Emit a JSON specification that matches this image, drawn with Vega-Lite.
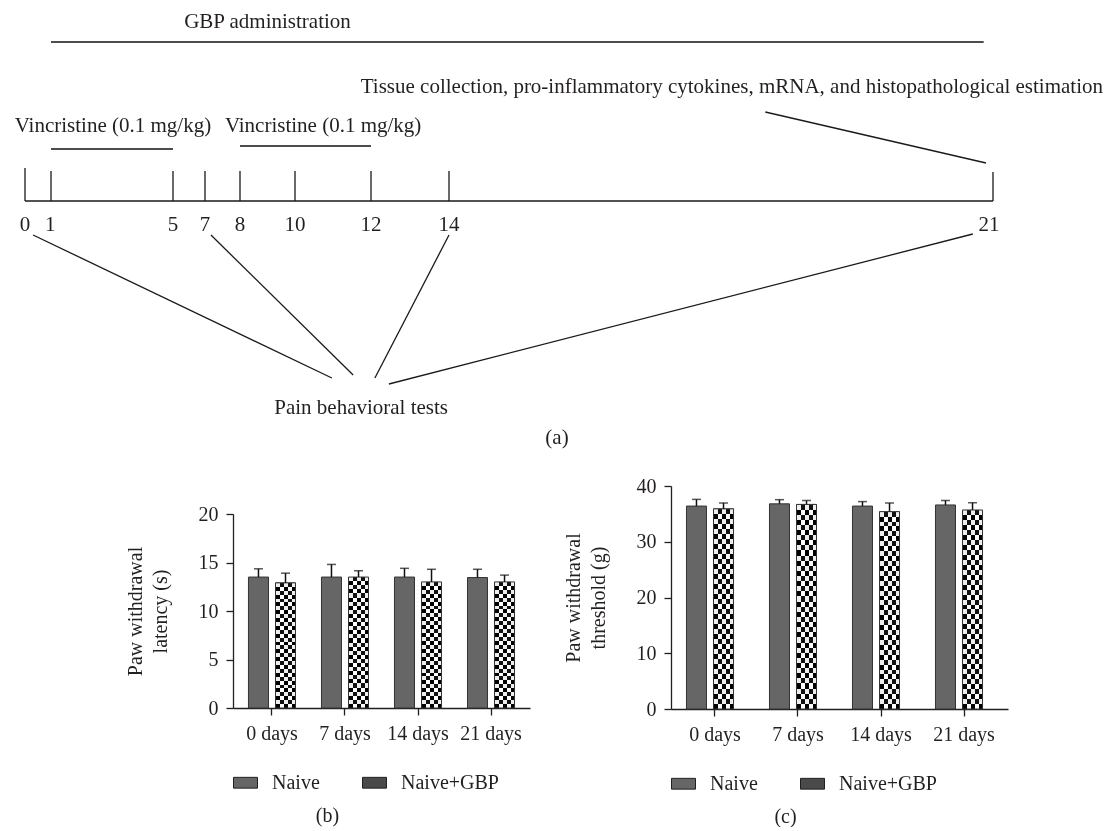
{
  "$schema": "https://vega.github.io/schema/vega-lite/v6.json",
  "background": "white",
  "padding": 0,
  "spacing": 21,
  "resolve": {"scale": {"fill": "independent"}, "legend": {"fill": "independent"}},
  "config": {
    "view": {"stroke": null},
    "font": "Liberation Serif",
    "axis": {"domainColor": "#231f20", "domainWidth": 1.3, "tickColor": "#231f20", "tickWidth": 1.3, "tickSize": 7, "labelFont": "Liberation Serif", "labelFontSize": 20, "labelColor": "#231f20", "titleFont": "Liberation Serif", "titleFontSize": 20, "titleFontWeight": "normal", "titleColor": "#231f20", "grid": false},
    "axisX": {"labelPadding": 8, "labelAngle": 0},
    "axisY": {"labelPadding": 8, "titlePadding": 28, "titleLineHeight": 25},
    "title": {"font": "Liberation Serif", "fontSize": 20, "fontWeight": "normal", "color": "#231f20"}
  },
  "datasets": {
    "thick": [
      {"x1": 1, "x2": 20.88, "y1": 42, "y2": 42},
      {"x1": 1, "x2": 5, "y1": 149, "y2": 149},
      {"x1": 8, "x2": 12, "y1": 146, "y2": 146}
    ],
    "thin": [
      {"x1": 0, "x2": 21, "y1": 201, "y2": 201},
      {"x1": 0, "x2": 0, "y1": 168, "y2": 201},
      {"x1": 1, "x2": 1, "y1": 171, "y2": 201},
      {"x1": 5, "x2": 5, "y1": 171, "y2": 201},
      {"x1": 7, "x2": 7, "y1": 171, "y2": 201},
      {"x1": 8, "x2": 8, "y1": 171, "y2": 201},
      {"x1": 10, "x2": 10, "y1": 171, "y2": 201},
      {"x1": 12, "x2": 12, "y1": 171, "y2": 201},
      {"x1": 14, "x2": 14, "y1": 171, "y2": 201},
      {"x1": 21, "x2": 21, "y1": 172, "y2": 201},
      {"x1": 18.07, "x2": 20.91, "y1": 112, "y2": 163},
      {"x1": 0.31, "x2": 10.97, "y1": 235, "y2": 378},
      {"x1": 7.17, "x2": 11.53, "y1": 235, "y2": 375},
      {"x1": 14, "x2": 12.1, "y1": 235, "y2": 378},
      {"x1": 20.74, "x2": 12.46, "y1": 234, "y2": 384}
    ],
    "notes": [
      {"label": "GBP administration", "x1": 9.0, "y1": 22},
      {"label": "Tissue collection, pro-inflammatory cytokines, mRNA, and histopathological estimation", "x1": 17.64, "y1": 87},
      {"label": "Vincristine (0.1 mg/kg)", "x1": 3.03, "y1": 126},
      {"label": "Vincristine (0.1 mg/kg)", "x1": 10.74, "y1": 126},
      {"label": "0", "x1": 0, "y1": 225},
      {"label": "1", "x1": 0.97, "y1": 225},
      {"label": "5", "x1": 5, "y1": 225},
      {"label": "7", "x1": 7, "y1": 225},
      {"label": "8", "x1": 8, "y1": 225},
      {"label": "10", "x1": 10, "y1": 225},
      {"label": "12", "x1": 12, "y1": 225},
      {"label": "14", "x1": 14, "y1": 225},
      {"label": "21", "x1": 20.95, "y1": 225},
      {"label": "Pain behavioral tests", "x1": 11.74, "y1": 408},
      {"label": "(a)", "x1": 15.39, "y1": 438}
    ],
    "latency": [
      {"day": "0 days", "group": "Naive", "mean": 13.5, "hi": 14.35},
      {"day": "0 days", "group": "Naive+GBP", "mean": 12.9, "hi": 13.9},
      {"day": "7 days", "group": "Naive", "mean": 13.5, "hi": 14.8},
      {"day": "7 days", "group": "Naive+GBP", "mean": 13.5, "hi": 14.15},
      {"day": "14 days", "group": "Naive", "mean": 13.5, "hi": 14.4},
      {"day": "14 days", "group": "Naive+GBP", "mean": 13.0, "hi": 14.3},
      {"day": "21 days", "group": "Naive", "mean": 13.45, "hi": 14.3},
      {"day": "21 days", "group": "Naive+GBP", "mean": 13.0, "hi": 13.7}
    ],
    "threshold": [
      {"day": "0 days", "group": "Naive", "mean": 36.4, "hi": 37.6},
      {"day": "0 days", "group": "Naive+GBP", "mean": 35.9, "hi": 36.95},
      {"day": "7 days", "group": "Naive", "mean": 36.8, "hi": 37.55},
      {"day": "7 days", "group": "Naive+GBP", "mean": 36.7, "hi": 37.4},
      {"day": "14 days", "group": "Naive", "mean": 36.4, "hi": 37.2},
      {"day": "14 days", "group": "Naive+GBP", "mean": 35.4, "hi": 36.95},
      {"day": "21 days", "group": "Naive", "mean": 36.6, "hi": 37.4},
      {"day": "21 days", "group": "Naive+GBP", "mean": 35.7, "hi": 37.0}
    ]
  },
  "vconcat": [
    {
      "width": 1112,
      "height": 455,
      "encoding": {
        "x": {"field": "x1", "type": "quantitative", "axis": null, "scale": {"type": "linear", "domain": [0, 1, 5, 7, 8, 10, 12, 14, 21], "range": [25, 51, 173, 205, 240, 295, 371, 449, 993], "zero": false, "nice": false}},
        "y": {"field": "y1", "type": "quantitative", "axis": null, "scale": {"domain": [0, 455], "reverse": true, "zero": false, "nice": false}}
      },
      "layer": [
        {"data": {"name": "thick"}, "mark": {"type": "rule", "color": "#4d4d4d", "strokeWidth": 2}, "encoding": {"x2": {"field": "x2"}, "y2": {"field": "y2"}}},
        {"data": {"name": "thin"}, "mark": {"type": "rule", "color": "#1a1a1a", "strokeWidth": 1.3}, "encoding": {"x2": {"field": "x2"}, "y2": {"field": "y2"}}},
        {"data": {"name": "notes"}, "mark": {"type": "text", "font": "Liberation Serif", "fontSize": 21, "color": "#231f20", "baseline": "middle", "align": "center"}, "encoding": {"text": {"field": "label"}}}
      ]
    },
    {
      "spacing": 33,
      "resolve": {"scale": {"fill": "independent"}, "legend": {"fill": "independent"}},
      "hconcat": [
        {"width": 92, "height": 10, "data": {"values": [{"k": 1}]}, "mark": {"type": "point", "opacity": 0}, "encoding": {}},
        {
          "spacing": 0,
          "resolve": {"scale": {"fill": "independent"}, "legend": {"fill": "independent"}},
          "vconcat": [
            {"width": 10, "height": 18, "data": {"values": [{"k": 1}]}, "mark": {"type": "point", "opacity": 0}, "encoding": {}},
            {
              "width": 297,
              "height": 194,
              "data": {"name": "latency"},
              "title": {"text": "(b)", "orient": "bottom", "frame": "bounds", "anchor": "middle", "offset": 13},
              "encoding": {
                "x": {"field": "day", "type": "nominal", "sort": ["0 days", "7 days", "14 days", "21 days"], "scale": {"paddingInner": 0, "paddingOuter": 0.034}, "axis": {"title": null, "labelAngle": 0}},
                "xOffset": {"field": "group", "type": "nominal", "sort": ["Naive", "Naive+GBP"], "scale": {"paddingInner": 0.26, "paddingOuter": 0.48}},
                "y": {"field": "mean", "type": "quantitative", "scale": {"domain": [0, 20], "nice": false}, "axis": {"title": ["Paw withdrawal", "latency (s)"], "values": [0, 5, 10, 15, 20]}}
              },
              "layer": [
                {"mark": {"type": "bar", "strokeWidth": 0}, "encoding": {"fill": {"field": "group", "type": "nominal", "sort": ["Naive", "Naive+GBP"], "scale": {"range": ["#666666", "#4a4a4a"]}, "legend": {"orient": "bottom", "direction": "horizontal", "title": null, "symbolType": "M-1,-0.45H1V0.45H-1Z", "symbolSize": 576, "symbolStrokeColor": "#231f20", "symbolStrokeWidth": 1, "labelFont": "Liberation Serif", "labelFontSize": 20, "labelColor": "#231f20", "labelOffset": 14, "columnPadding": 40, "offset": 27, "symbolOpacity": 1}}}},
                {"transform": [{"filter": "datum.group === 'Naive+GBP'"}], "mark": {"type": "bar", "fill": {"gradient": "linear", "x1": 0, "y1": 0, "x2": 0, "y2": 1, "stops": [
                  {"offset": 0, "color": "#111"}, {"offset": 0.03125, "color": "#111"},
                  {"offset": 0.03125, "color": "#fff"}, {"offset": 0.0625, "color": "#fff"},
                  {"offset": 0.0625, "color": "#111"}, {"offset": 0.09375, "color": "#111"},
                  {"offset": 0.09375, "color": "#fff"}, {"offset": 0.125, "color": "#fff"},
                  {"offset": 0.125, "color": "#111"}, {"offset": 0.15625, "color": "#111"},
                  {"offset": 0.15625, "color": "#fff"}, {"offset": 0.1875, "color": "#fff"},
                  {"offset": 0.1875, "color": "#111"}, {"offset": 0.21875, "color": "#111"},
                  {"offset": 0.21875, "color": "#fff"}, {"offset": 0.25, "color": "#fff"},
                  {"offset": 0.25, "color": "#111"}, {"offset": 0.28125, "color": "#111"},
                  {"offset": 0.28125, "color": "#fff"}, {"offset": 0.3125, "color": "#fff"},
                  {"offset": 0.3125, "color": "#111"}, {"offset": 0.34375, "color": "#111"},
                  {"offset": 0.34375, "color": "#fff"}, {"offset": 0.375, "color": "#fff"},
                  {"offset": 0.375, "color": "#111"}, {"offset": 0.40625, "color": "#111"},
                  {"offset": 0.40625, "color": "#fff"}, {"offset": 0.4375, "color": "#fff"},
                  {"offset": 0.4375, "color": "#111"}, {"offset": 0.46875, "color": "#111"},
                  {"offset": 0.46875, "color": "#fff"}, {"offset": 0.5, "color": "#fff"},
                  {"offset": 0.5, "color": "#111"}, {"offset": 0.53125, "color": "#111"},
                  {"offset": 0.53125, "color": "#fff"}, {"offset": 0.5625, "color": "#fff"},
                  {"offset": 0.5625, "color": "#111"}, {"offset": 0.59375, "color": "#111"},
                  {"offset": 0.59375, "color": "#fff"}, {"offset": 0.625, "color": "#fff"},
                  {"offset": 0.625, "color": "#111"}, {"offset": 0.65625, "color": "#111"},
                  {"offset": 0.65625, "color": "#fff"}, {"offset": 0.6875, "color": "#fff"},
                  {"offset": 0.6875, "color": "#111"}, {"offset": 0.71875, "color": "#111"},
                  {"offset": 0.71875, "color": "#fff"}, {"offset": 0.75, "color": "#fff"},
                  {"offset": 0.75, "color": "#111"}, {"offset": 0.78125, "color": "#111"},
                  {"offset": 0.78125, "color": "#fff"}, {"offset": 0.8125, "color": "#fff"},
                  {"offset": 0.8125, "color": "#111"}, {"offset": 0.84375, "color": "#111"},
                  {"offset": 0.84375, "color": "#fff"}, {"offset": 0.875, "color": "#fff"},
                  {"offset": 0.875, "color": "#111"}, {"offset": 0.90625, "color": "#111"},
                  {"offset": 0.90625, "color": "#fff"}, {"offset": 0.9375, "color": "#fff"},
                  {"offset": 0.9375, "color": "#111"}, {"offset": 0.96875, "color": "#111"},
                  {"offset": 0.96875, "color": "#fff"}, {"offset": 1, "color": "#fff"}]}}},
                {"transform": [{"filter": "datum.group === 'Naive+GBP'"}], "mark": {"type": "bar", "blend": "difference", "fill": {"gradient": "linear", "x1": 0, "y1": 0, "x2": 1, "y2": 0, "stops": [{"offset": 0, "color": "#fff"}, {"offset": 0.2, "color": "#fff"}, {"offset": 0.2, "color": "#000"}, {"offset": 0.4, "color": "#000"}, {"offset": 0.4, "color": "#fff"}, {"offset": 0.6, "color": "#fff"}, {"offset": 0.6, "color": "#000"}, {"offset": 0.8, "color": "#000"}, {"offset": 0.8, "color": "#fff"}, {"offset": 1, "color": "#fff"}]}}},
                {"mark": {"type": "bar", "fillOpacity": 0, "stroke": "#333", "strokeWidth": 1}},
                {"mark": {"type": "rule", "color": "#111", "strokeWidth": 1.5}, "encoding": {"y2": {"field": "hi"}}},
                {"mark": {"type": "tick", "color": "#111", "size": 9, "thickness": 1.5}, "encoding": {"y": {"field": "hi", "type": "quantitative", "axis": {"title": ["Paw withdrawal", "latency (s)"], "values": [0, 5, 10, 15, 20]}}}}
              ]
            }
          ]
        },
        {
          "width": 337,
          "height": 223,
          "data": {"name": "threshold"},
          "title": {"text": "(c)", "orient": "bottom", "frame": "bounds", "anchor": "middle", "offset": 13},
          "encoding": {
            "x": {"field": "day", "type": "nominal", "sort": ["0 days", "7 days", "14 days", "21 days"], "scale": {"paddingInner": 0, "paddingOuter": 0.03}, "axis": {"title": null, "labelAngle": 0}},
            "xOffset": {"field": "group", "type": "nominal", "sort": ["Naive", "Naive+GBP"], "scale": {"paddingInner": 0.258, "paddingOuter": 0.468}},
            "y": {"field": "mean", "type": "quantitative", "scale": {"domain": [0, 40], "nice": false}, "axis": {"title": ["Paw withdrawal", "threshold (g)"], "values": [0, 10, 20, 30, 40]}}
          },
          "layer": [
            {"mark": {"type": "bar", "strokeWidth": 0}, "encoding": {"fill": {"field": "group", "type": "nominal", "sort": ["Naive", "Naive+GBP"], "scale": {"range": ["#666666", "#4a4a4a"]}, "legend": {"orient": "bottom", "direction": "horizontal", "title": null, "symbolType": "M-1,-0.45H1V0.45H-1Z", "symbolSize": 576, "symbolStrokeColor": "#231f20", "symbolStrokeWidth": 1, "labelFont": "Liberation Serif", "labelFontSize": 20, "labelColor": "#231f20", "labelOffset": 14, "columnPadding": 40, "offset": 27, "symbolOpacity": 1}}}},
            {"transform": [{"filter": "datum.group === 'Naive+GBP'"}], "mark": {"type": "bar", "fill": {"gradient": "linear", "x1": 0, "y1": 0, "x2": 0, "y2": 1, "stops": [
              {"offset": 0, "color": "#111"}, {"offset": 0.025, "color": "#111"},
              {"offset": 0.025, "color": "#fff"}, {"offset": 0.05, "color": "#fff"},
              {"offset": 0.05, "color": "#111"}, {"offset": 0.075, "color": "#111"},
              {"offset": 0.075, "color": "#fff"}, {"offset": 0.1, "color": "#fff"},
              {"offset": 0.1, "color": "#111"}, {"offset": 0.125, "color": "#111"},
              {"offset": 0.125, "color": "#fff"}, {"offset": 0.15, "color": "#fff"},
              {"offset": 0.15, "color": "#111"}, {"offset": 0.175, "color": "#111"},
              {"offset": 0.175, "color": "#fff"}, {"offset": 0.2, "color": "#fff"},
              {"offset": 0.2, "color": "#111"}, {"offset": 0.225, "color": "#111"},
              {"offset": 0.225, "color": "#fff"}, {"offset": 0.25, "color": "#fff"},
              {"offset": 0.25, "color": "#111"}, {"offset": 0.275, "color": "#111"},
              {"offset": 0.275, "color": "#fff"}, {"offset": 0.3, "color": "#fff"},
              {"offset": 0.3, "color": "#111"}, {"offset": 0.325, "color": "#111"},
              {"offset": 0.325, "color": "#fff"}, {"offset": 0.35, "color": "#fff"},
              {"offset": 0.35, "color": "#111"}, {"offset": 0.375, "color": "#111"},
              {"offset": 0.375, "color": "#fff"}, {"offset": 0.4, "color": "#fff"},
              {"offset": 0.4, "color": "#111"}, {"offset": 0.425, "color": "#111"},
              {"offset": 0.425, "color": "#fff"}, {"offset": 0.45, "color": "#fff"},
              {"offset": 0.45, "color": "#111"}, {"offset": 0.475, "color": "#111"},
              {"offset": 0.475, "color": "#fff"}, {"offset": 0.5, "color": "#fff"},
              {"offset": 0.5, "color": "#111"}, {"offset": 0.525, "color": "#111"},
              {"offset": 0.525, "color": "#fff"}, {"offset": 0.55, "color": "#fff"},
              {"offset": 0.55, "color": "#111"}, {"offset": 0.575, "color": "#111"},
              {"offset": 0.575, "color": "#fff"}, {"offset": 0.6, "color": "#fff"},
              {"offset": 0.6, "color": "#111"}, {"offset": 0.625, "color": "#111"},
              {"offset": 0.625, "color": "#fff"}, {"offset": 0.65, "color": "#fff"},
              {"offset": 0.65, "color": "#111"}, {"offset": 0.675, "color": "#111"},
              {"offset": 0.675, "color": "#fff"}, {"offset": 0.7, "color": "#fff"},
              {"offset": 0.7, "color": "#111"}, {"offset": 0.725, "color": "#111"},
              {"offset": 0.725, "color": "#fff"}, {"offset": 0.75, "color": "#fff"},
              {"offset": 0.75, "color": "#111"}, {"offset": 0.775, "color": "#111"},
              {"offset": 0.775, "color": "#fff"}, {"offset": 0.8, "color": "#fff"},
              {"offset": 0.8, "color": "#111"}, {"offset": 0.825, "color": "#111"},
              {"offset": 0.825, "color": "#fff"}, {"offset": 0.85, "color": "#fff"},
              {"offset": 0.85, "color": "#111"}, {"offset": 0.875, "color": "#111"},
              {"offset": 0.875, "color": "#fff"}, {"offset": 0.9, "color": "#fff"},
              {"offset": 0.9, "color": "#111"}, {"offset": 0.925, "color": "#111"},
              {"offset": 0.925, "color": "#fff"}, {"offset": 0.95, "color": "#fff"},
              {"offset": 0.95, "color": "#111"}, {"offset": 0.975, "color": "#111"},
              {"offset": 0.975, "color": "#fff"}, {"offset": 1, "color": "#fff"}]}}},
            {"transform": [{"filter": "datum.group === 'Naive+GBP'"}], "mark": {"type": "bar", "blend": "difference", "fill": {"gradient": "linear", "x1": 0, "y1": 0, "x2": 1, "y2": 0, "stops": [{"offset": 0, "color": "#fff"}, {"offset": 0.2, "color": "#fff"}, {"offset": 0.2, "color": "#000"}, {"offset": 0.4, "color": "#000"}, {"offset": 0.4, "color": "#fff"}, {"offset": 0.6, "color": "#fff"}, {"offset": 0.6, "color": "#000"}, {"offset": 0.8, "color": "#000"}, {"offset": 0.8, "color": "#fff"}, {"offset": 1, "color": "#fff"}]}}},
            {"mark": {"type": "bar", "fillOpacity": 0, "stroke": "#333", "strokeWidth": 1}},
            {"mark": {"type": "rule", "color": "#111", "strokeWidth": 1.5}, "encoding": {"y2": {"field": "hi"}}},
            {"mark": {"type": "tick", "color": "#111", "size": 9, "thickness": 1.5}, "encoding": {"y": {"field": "hi", "type": "quantitative", "axis": {"title": ["Paw withdrawal", "threshold (g)"], "values": [0, 10, 20, 30, 40]}}}}
          ]
        }
      ]
    }
  ]
}
